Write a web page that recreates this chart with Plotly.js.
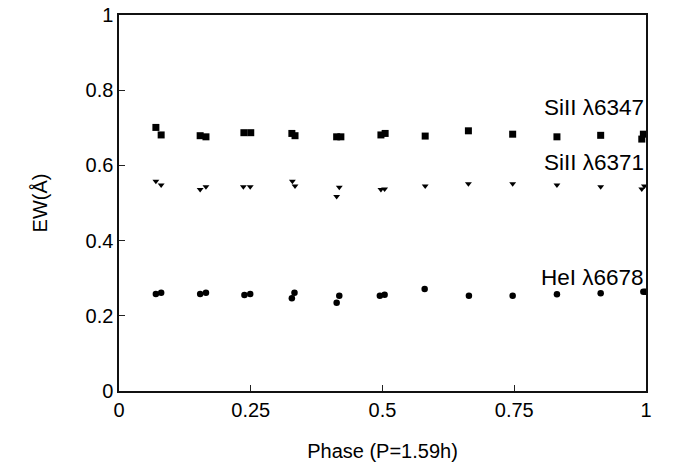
<!DOCTYPE html>
<html>
<head>
<meta charset="utf-8">
<script src="https://cdn.plot.ly/plotly-3.0.1.min.js"></script>
<style>html,body{margin:0;padding:0;background:#fff;}#chart{width:679px;height:464px;}</style>
</head>
<body>
<div id="chart"></div>
<script>
const phaseSi6347 = [0.070,0.080,0.154,0.165,0.237,0.250,0.328,0.334,0.413,0.421,0.497,0.505,0.581,0.663,0.747,0.831,0.914,0.992,0.995];
const ewSi6347    = [0.701,0.681,0.679,0.676,0.687,0.687,0.685,0.679,0.676,0.676,0.681,0.685,0.678,0.692,0.683,0.676,0.680,0.670,0.683];

const phaseSi6371 = [0.070,0.080,0.154,0.165,0.236,0.249,0.329,0.334,0.413,0.418,0.497,0.504,0.581,0.663,0.747,0.831,0.914,0.992,0.997];
const ewSi6371    = [0.558,0.548,0.536,0.543,0.543,0.543,0.558,0.545,0.517,0.542,0.536,0.537,0.545,0.551,0.551,0.548,0.543,0.537,0.545];

const phaseHe6678 = [0.070,0.080,0.154,0.165,0.238,0.249,0.328,0.333,0.413,0.418,0.495,0.504,0.580,0.664,0.747,0.831,0.914,0.995,0.999];
const ewHe6678    = [0.258,0.261,0.258,0.261,0.255,0.258,0.247,0.261,0.235,0.253,0.253,0.256,0.271,0.253,0.253,0.257,0.260,0.264,0.264];

const seriesNames = ['SiII λ6347','SiII λ6371','HeI λ6678'];
const labelY = [0.753, 0.609, 0.303];

const xTickVals = [0, 0.25, 0.5, 0.75, 1];
const xTickText = ['0','0.25','0.5','0.75','1'];
const yTickVals = [0, 0.2, 0.4, 0.6, 0.8, 1];
const yTickText = ['0','0.2','0.4','0.6','0.8','1'];

const fam = 'Liberation Sans, Arial, sans-serif';
const tickFont = {family: fam, size: 20, color: '#000'};
const titleFont = {family: fam, size: 20, color: '#000'};
const labelFont = {family: fam, size: 22.5, color: '#000'};

const traces = [
  {x: phaseSi6347, y: ewSi6347, name: seriesNames[0], mode: 'markers', type: 'scatter',
   marker: {symbol: 'square', size: 7, color: '#000'}},
  {x: phaseSi6371, y: ewSi6371, name: seriesNames[1], mode: 'markers', type: 'scatter',
   marker: {symbol: 'triangle-down', size: 6, color: '#000'}},
  {x: phaseHe6678, y: ewHe6678, name: seriesNames[2], mode: 'markers', type: 'scatter',
   marker: {symbol: 'circle', size: 6.5, color: '#000'}}
];

const annotations = seriesNames.map((t, i) => ({
  text: t, x: 1, xref: 'x', y: labelY[i], yref: 'y', xanchor: 'right', yanchor: 'middle',
  xshift: 0, showarrow: false, font: labelFont
}));

const layout = {
  width: 679, height: 464,
  margin: {l: 119, r: 33, t: 15, b: 73},
  paper_bgcolor: '#fff', plot_bgcolor: '#fff',
  showlegend: false,
  font: tickFont,
  xaxis: {
    range: [0, 1], tickvals: xTickVals, ticktext: xTickText,
    showline: true, mirror: true, linecolor: '#111', linewidth: 1.6,
    ticks: 'inside', ticklen: 6, tickcolor: '#222', tickwidth: 1,
    showgrid: false, zeroline: false, tickfont: tickFont,
    title: {text: 'Phase (P=1.59h)', font: titleFont, standoff: 24}
  },
  yaxis: {
    range: [0, 1], tickvals: yTickVals, ticktext: yTickText,
    showline: true, mirror: true, linecolor: '#111', linewidth: 1.6,
    ticks: 'inside', ticklen: 6, tickcolor: '#222', tickwidth: 1,
    showgrid: false, zeroline: false, tickfont: tickFont,
    title: {text: 'EW(Å)', font: titleFont, standoff: 32}
  },
  annotations: annotations
};

Plotly.newPlot('chart', traces, layout, {displayModeBar: false, staticPlot: true});
</script>
</body>
</html>
